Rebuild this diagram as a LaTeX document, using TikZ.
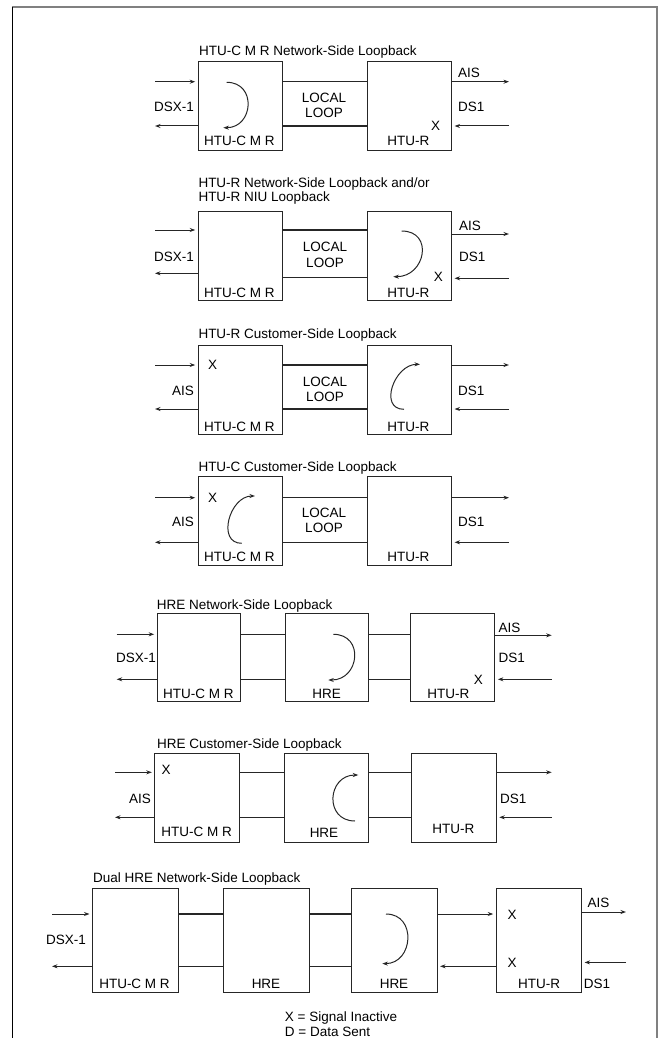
\documentclass[tikz,border=0pt]{standalone}
\usepackage{fontspec}
\setmainfont{Liberation Sans}
\usetikzlibrary{arrows.meta}
\begin{document}
\begin{tikzpicture}[x=1pt,y=-1pt,
  every node/.style={font=\fontsize{13.5}{15}\selectfont, inner sep=0pt},
  bx/.style={draw=black!85, line width=1.05pt, rectangle, anchor=north west, minimum height=89pt},
  ln/.style={draw=black!85, line width=1.05pt},
  arr/.style={draw=black!85, line width=1pt, -{Stealth[length=5.5pt,width=4pt]}},
  tip/.style={shorten >=2.5pt},
  tl/.style={anchor=base west},
  lw/.style={anchor=west}
]
\useasboundingbox (0,0) rectangle (659,1038);
% frame
\draw[black!50, line width=1.2pt] (12,7) -- (657,7) -- (657,1038);
\draw[black, line width=1pt] (12,1038) -- (12,7);

% ---------- Panel 1 ----------
\begin{scope}[yshift=-61pt]
 \node[bx, minimum width=84.6pt] (a1) at (197.7,0) {};
 \node[bx, minimum width=84.3pt] (a2) at (366.7,0) {};
 \coordinate (U) at (0,20.7); \coordinate (L) at (0,65);
 \coordinate (inL) at (155,20.7); \coordinate (outL) at (155,65);
 \coordinate (outR) at (509,20.7); \coordinate (inR) at (509,65);
 \draw[ln] (a1.east |- U) -- (a2.west |- U);
 \draw[ln] (a1.east |- L) -- (a2.west |- L);
 \draw[arr,tip] (inL) -- (a1.west |- inL);
 \draw[arr] (a1.west |- outL) -- (outL);
 \draw[arr] (a2.east |- outR) -- (outR);
 \draw[arr,tip] (inR) -- (a2.east |- inR);
 \node[tl] (t1) at (199,-5.3) {HTU-C M R Network-Side Loopback};
 \node (d1) at (174,46.3) {DSX-1};
 \node[lw] (ais1) at (458,12.3) {AIS};
 \node[lw] (ds1) at (458,46.3) {DS1};
 \node (lc1) at (324,37) {LOCAL};
 \node (lp1) at (324,51.7) {LOOP};
 \node (la1) at (239.3,80) {HTU-C M R};
 \node (lb1) at (408.3,80) {HTU-R};
 \node (x1) at (435.7,65) {X};
 \draw[arr] (226.7,21.3) .. controls (257,21.3) and (253.6,66.7) .. (223.3,66.7);
\end{scope}

% ---------- Panel 2 ----------
\begin{scope}[yshift=-210.7pt]
 \node[bx, minimum width=84.6pt] (b1) at (197.7,0) {};
 \node[bx, minimum width=84.3pt] (b2) at (366.7,0) {};
 \coordinate (U) at (0,19.3); \coordinate (L) at (0,66.6);
 \coordinate (inL) at (155,19.3); \coordinate (outL) at (155,62.6);
 \coordinate (outR) at (509,23.3); \coordinate (inR) at (509,67.6);
 \draw[ln] (b1.east |- U) -- (b2.west |- U);
 \draw[ln] (b1.east |- L) -- (b2.west |- L);
 \draw[arr,tip] (inL) -- (b1.west |- inL);
 \draw[arr] (b1.west |- outL) -- (outL);
 \draw[arr] (b2.east |- outR) -- (outR);
 \draw[arr,tip] (inR) -- (b2.east |- inR);
 \node[tl] (t2a) at (198.3,-23.5) {HTU-R Network-Side Loopback and/or};
 \node[tl] (t2b) at (198.3,-9.5) {HTU-R NIU Loopback};
 \node (d2) at (174,46) {DSX-1};
 \node[lw] (ais2) at (459,15.3) {AIS};
 \node[lw] (ds2) at (459,46) {DS1};
 \node (lc2) at (325,36.6) {LOCAL};
 \node (lp2) at (325,52.6) {LOOP};
 \node (la2) at (239.3,82.6) {HTU-C M R};
 \node (lb2) at (408.3,82.6) {HTU-R};
 \node (x2) at (438.3,66.6) {X};
 \draw[arr] (401.7,20.3) .. controls (434,20.3) and (425.6,66) .. (393.3,66);
\end{scope}

% ---------- Panel 3 ----------
\begin{scope}[yshift=-345pt]
 \node[bx, minimum width=84.6pt] (c1) at (197.7,0) {};
 \node[bx, minimum width=84.3pt] (c2) at (366.7,0) {};
 \coordinate (U) at (0,20); \coordinate (L) at (0,64);
 \coordinate (inL) at (155,20); \coordinate (outL) at (155,64);
 \coordinate (outR) at (509,20); \coordinate (inR) at (509,64);
 \draw[ln] (c1.east |- U) -- (c2.west |- U);
 \draw[ln] (c1.east |- L) -- (c2.west |- L);
 \draw[arr,tip] (inL) -- (c1.west |- inL);
 \draw[arr] (c1.west |- outL) -- (outL);
 \draw[arr] (c2.east |- outR) -- (outR);
 \draw[arr,tip] (inR) -- (c2.east |- inR);
 \node[tl] (t3) at (198.3,-6.5) {HTU-R Customer-Side Loopback};
 \node (x3) at (212.7,20) {X};
 \node (ais3) at (183,45.7) {AIS};
 \node[lw] (ds3) at (458,45.7) {DS1};
 \node (lc3) at (325,37.3) {LOCAL};
 \node (lp3) at (325,52.3) {LOOP};
 \node (la3) at (239.3,82.3) {HTU-C M R};
 \node (lb3) at (408.3,82.3) {HTU-R};
 \draw[arr] (404,64.3) .. controls (378.3,64.3) and (394.3,19.3) .. (420,19.3);
\end{scope}

% ---------- Panel 4 ----------
\begin{scope}[yshift=-476pt]
 \node[bx, minimum width=84.6pt] (e1) at (197.7,0) {};
 \node[bx, minimum width=84.3pt] (e2) at (366.7,0) {};
 \coordinate (U) at (0,21.7); \coordinate (L) at (0,66.3);
 \coordinate (inL) at (155,21.7); \coordinate (outL) at (155,66.3);
 \coordinate (outR) at (509,21.7); \coordinate (inR) at (509,66.3);
 \draw[ln] (e1.east |- U) -- (e2.west |- U);
 \draw[ln] (e1.east |- L) -- (e2.west |- L);
 \draw[arr,tip] (inL) -- (e1.west |- inL);
 \draw[arr] (e1.west |- outL) -- (outL);
 \draw[arr] (e2.east |- outR) -- (outR);
 \draw[arr,tip] (inR) -- (e2.east |- inR);
 \node[tl] (t4) at (198.3,-4.8) {HTU-C Customer-Side Loopback};
 \node (x4) at (212.7,21.7) {X};
 \node (ais4) at (183,45.7) {AIS};
 \node[lw] (ds4) at (458,45.7) {DS1};
 \node (lc4) at (324,36.7) {LOCAL};
 \node (lp4) at (324,52.3) {LOOP};
 \node (la4) at (239.3,81.3) {HTU-C M R};
 \node (lb4) at (408.3,81.3) {HTU-R};
 \draw[arr] (241.7,67.3) .. controls (216.3,67.3) and (229.6,20) .. (255,20);
\end{scope}

% ---------- Panel 5 ----------
\begin{scope}[yshift=-612.7pt]
 \node[bx, minimum width=83.3pt, minimum height=88.3pt] (f1) at (156.7,0) {};
 \node[bx, minimum width=83.3pt, minimum height=88.3pt] (f2) at (285,0) {};
 \node[bx, minimum width=84.3pt, minimum height=88.3pt] (f3) at (410,0) {};
 \coordinate (U) at (0,21.6); \coordinate (L) at (0,66.6);
 \coordinate (inL) at (116.7,21.6); \coordinate (outL) at (116.7,66.6);
 \coordinate (outR) at (551.7,22.6); \coordinate (inR) at (551.7,66.6);
 \draw[ln] (f1.east |- U) -- (f2.west |- U);
 \draw[ln] (f1.east |- L) -- (f2.west |- L);
 \draw[ln] (f2.east |- U) -- (f3.west |- U);
 \draw[ln] (f2.east |- L) -- (f3.west |- L);
 \draw[arr,tip] (inL) -- (f1.west |- inL);
 \draw[arr] (f1.west |- outL) -- (outL);
 \draw[arr] (f3.east |- outR) -- (outR);
 \draw[arr,tip] (inR) -- (f3.east |- inR);
 \node[tl] (t5) at (156.7,-3.2) {HRE Network-Side Loopback};
 \node (d5) at (136,45) {DSX-1};
 \node[lw] (ais5) at (498.3,15) {AIS};
 \node[lw] (ds5) at (498.3,45) {DS1};
 \node (la5) at (198.3,81.6) {HTU-C M R};
 \node (lb5) at (326.7,81.6) {HRE};
 \node (lc5) at (448.3,81.6) {HTU-R};
 \node (x5) at (478.3,67.3) {X};
 \draw[arr] (333.3,21.6) .. controls (364.6,21.6) and (359.6,67.3) .. (328.3,67.3);
\end{scope}

% ---------- Panel 6 ----------
\begin{scope}[yshift=-752.7pt]
 \node[bx, minimum width=85pt, minimum height=89.6pt] (g1) at (154.3,0) {};
 \node[bx, minimum width=84pt, minimum height=89.6pt] (g2) at (284.3,0) {};
 \node[bx, minimum width=85pt, minimum height=89.6pt] (g3) at (410.7,0) {};
 \coordinate (U) at (0,19.6); \coordinate (L) at (0,64.6);
 \coordinate (inL) at (115,19.6); \coordinate (outL) at (115,64.6);
 \coordinate (outR) at (551.7,19.6); \coordinate (inR) at (551.7,64.6);
 \draw[ln] (g1.east |- U) -- (g2.west |- U);
 \draw[ln] (g1.east |- L) -- (g2.west |- L);
 \draw[ln] (g2.east |- U) -- (g3.west |- U);
 \draw[ln] (g2.east |- L) -- (g3.west |- L);
 \draw[arr,tip] (inL) -- (g1.west |- inL);
 \draw[arr] (g1.west |- outL) -- (outL);
 \draw[arr] (g3.east |- outR) -- (outR);
 \draw[arr,tip] (inR) -- (g3.east |- inR);
 \node[tl] (t6) at (157,-4.2) {HRE Customer-Side Loopback};
 \node (x6) at (166,17.3) {X};
 \node (ais6) at (140,46.3) {AIS};
 \node[lw] (ds6) at (500,46.3) {DS1};
 \node (la6) at (196.7,79) {HTU-C M R};
 \node (lb6) at (324,80.6) {HRE};
 \node (lc6) at (453.3,76.6) {HTU-R};
 \draw[arr] (355,68.3) .. controls (323.9,68.3) and (327.2,22.3) .. (358.3,22.3);
\end{scope}

% ---------- Panel 7 ----------
\begin{scope}[yshift=-888pt]
 \node[bx, minimum width=86.3pt, minimum height=104pt] (h1) at (92,0) {};
 \node[bx, minimum width=85.9pt, minimum height=104pt] (h2) at (222.8,0) {};
 \node[bx, minimum width=85.2pt, minimum height=104pt] (h3) at (351.3,0) {};
 \node[bx, minimum width=85.3pt, minimum height=104pt] (h4) at (495.7,0) {};
 \coordinate (U) at (0,26); \coordinate (L) at (0,78.3);
 \coordinate (inL) at (52,26); \coordinate (outL) at (52,78.3);
 \coordinate (outR) at (626,24); \coordinate (inR) at (626,74.4);
 \draw[ln] (h1.east |- U) -- (h2.west |- U);
 \draw[ln] (h1.east |- L) -- (h2.west |- L);
 \draw[ln] (h2.east |- U) -- (h3.west |- U);
 \draw[ln] (h2.east |- L) -- (h3.west |- L);
 \draw[arr,tip] (h3.east |- U) -- (h4.west |- U);
 \draw[arr,tip] (h4.west |- L) -- (h3.east |- L);
 \draw[arr,tip] (inL) -- (h1.west |- inL);
 \draw[arr] (h1.west |- outL) -- (outL);
 \draw[arr] (h4.east |- outR) -- (outR);
 \draw[arr,tip] (inR) -- (h4.east |- inR);
 \node[tl] (t7) at (93,-5.2) {Dual HRE Network-Side Loopback};
 \node (d7) at (66,52.3) {DSX-1};
 \node[lw] (ais7) at (587.5,14.8) {AIS};
 \node[lw] (ds7) at (583.6,96) {DS1};
 \node (xa7) at (512,27) {X};
 \node (xb7) at (512,74.4) {X};
 \node (la7) at (134.5,96) {HTU-C M R};
 \node (lb7) at (266,96) {HRE};
 \node (lc7) at (394,96) {HRE};
 \node (ld7) at (539,96) {HTU-R};
 \draw[arr] (386,26) .. controls (417.1,26) and (413.4,75.6) .. (382.3,75.6);
\end{scope}

% legend
\node[lw] (leg1) at (284.7,1017.5) {X = Signal Inactive};
\node[lw] (leg2) at (284.7,1032) {D = Data Sent};
\end{tikzpicture}
\end{document}
